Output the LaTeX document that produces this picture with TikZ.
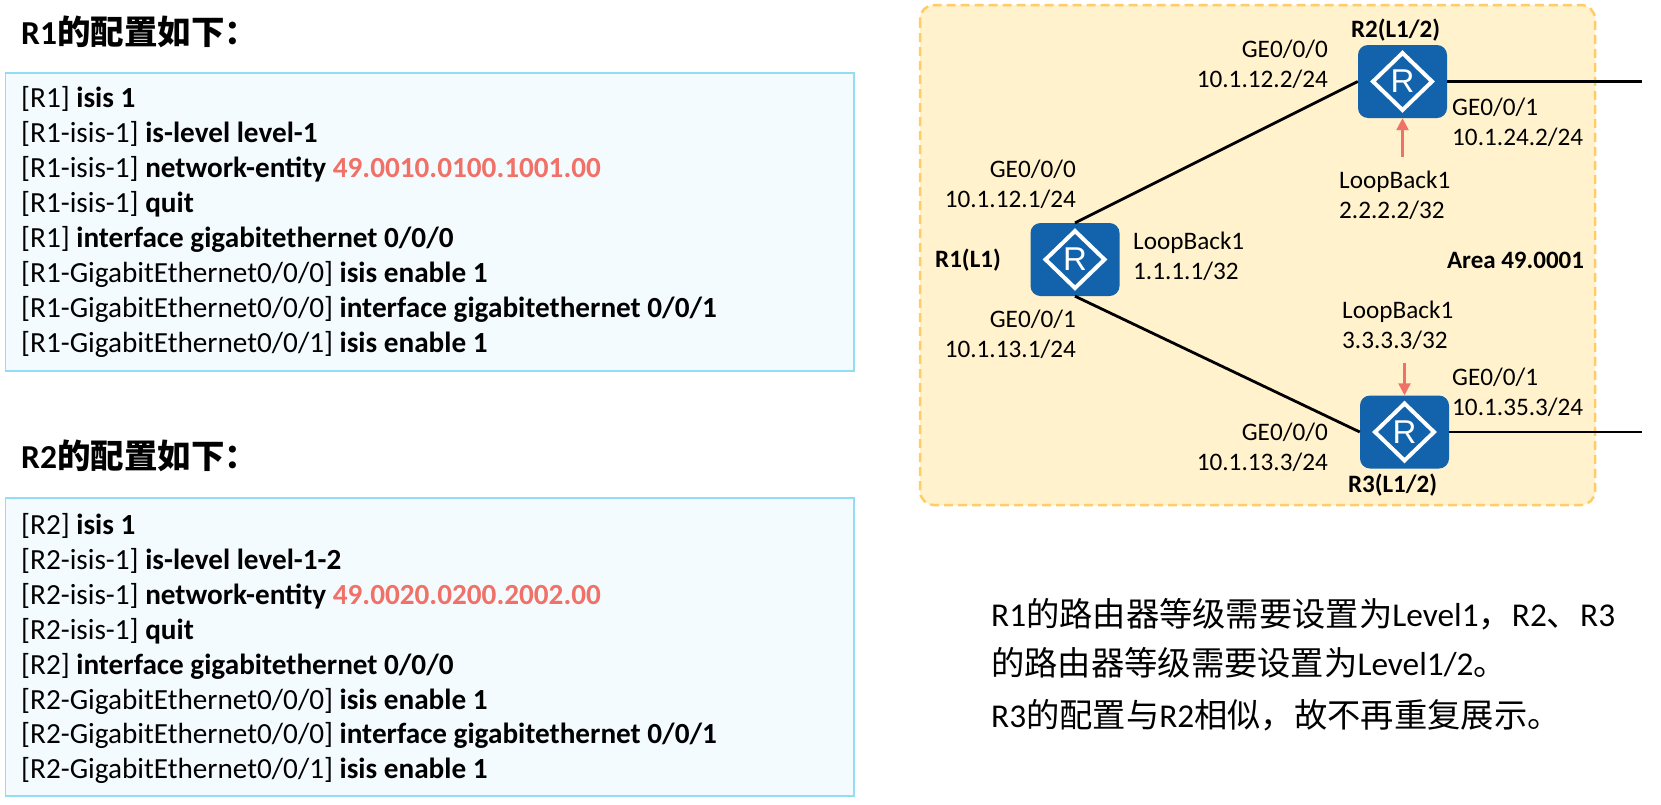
\documentclass[tikz,border=0pt]{standalone}
\usepackage{fontspec}
\setmainfont{Carlito}
\newfontfamily\cjk{Noto Sans CJK SC}
\newfontfamily\cjkb{Noto Sans CJK SC Bold}
\newfontfamily\rfont{Liberation Sans}
\usetikzlibrary{arrows.meta}
\definecolor{codefill}{HTML}{F4FBFF}
\definecolor{codeline}{HTML}{92DDF5}
\definecolor{areafill}{HTML}{FFF2CC}
\definecolor{arealine}{HTML}{FFCC66}
\definecolor{routerblue}{HTML}{1262AC}
\definecolor{hilite}{HTML}{F07167}
\newcommand{\sz}[1]{\fontsize{#1}{30}\selectfont}
\newcommand{\hl}[1]{\textcolor{hilite}{\textbf{#1}}}
\newcommand{\routerglyph}[1]{%
  \draw[white,line width=4pt,line join=miter] ([xshift=-29.5pt]#1.center) -- ([yshift=28.5pt]#1.center) -- ([xshift=29.5pt]#1.center) -- ([yshift=-28.5pt]#1.center) -- cycle;
  \node[white,font=\rfont\sz{33},inner sep=0pt] at (#1.center) {R};}
\tikzset{
  x=1pt,y=-1pt,
  codebox/.style={draw=codeline,fill=codefill,line width=1.8pt},
  codeline/.style={anchor=base west,inner sep=0pt,font=\sz{29.2}},
  titletext/.style={anchor=base west,inner sep=0pt,font=\sz{33.5}\bfseries},
  router/.style={fill=routerblue,rounded corners=10pt,minimum width=89pt,minimum height=73pt,inner sep=0pt},
  lab/.style={inner sep=0pt,font=\sz{25.2},align=left},
  labr/.style={inner sep=0pt,font=\sz{25.2},align=right},
  blab/.style={anchor=center,inner sep=0pt,font=\sz{25}\bfseries},
  link/.style={black,line width=2.8pt},
  loop/.style={draw=hilite,line width=2.4pt,-{Triangle[length=12pt,width=12pt]}},
  note/.style={anchor=base west,inner sep=0pt,font=\sz{33.3}}
}
\begin{document}
\begin{tikzpicture}
\useasboundingbox (0,0) rectangle (1661,804);
\fill[white] (0,0) rectangle (1661,804);
% left
\node[titletext] (t1) at (21,44) {R1{\cjkb 的配置如下：}};
\path[codebox] (5.5,73) rectangle (854,371);
\foreach \y/\t in {
 107/{[R1] \textbf{isis 1}},
 142/{[R1-isis-1] \textbf{is-level level-1}},
 177/{[R1-isis-1] \textbf{network-entity} \hl{49.0010.0100.1001.00}},
 212/{[R1-isis-1] \textbf{quit}},
 247/{[R1] \textbf{interface gigabitethernet 0/0/0}},
 282/{[R1-GigabitEthernet0/0/0] \textbf{isis enable 1}},
 317/{[R1-GigabitEthernet0/0/0] \textbf{interface gigabitethernet 0/0/1}},
 352/{[R1-GigabitEthernet0/0/1] \textbf{isis enable 1}}}
 {\node[codeline] at (21,\y) {\t};}
\node[titletext] (t2) at (21,468) {R2{\cjkb 的配置如下：}};
\path[codebox] (5.5,498) rectangle (854,796);
\foreach \y/\t in {
 534/{[R2] \textbf{isis 1}},
 569/{[R2-isis-1] \textbf{is-level level-1-2}},
 604/{[R2-isis-1] \textbf{network-entity} \hl{49.0020.0200.2002.00}},
 639/{[R2-isis-1] \textbf{quit}},
 674/{[R2] \textbf{interface gigabitethernet 0/0/0}},
 709/{[R2-GigabitEthernet0/0/0] \textbf{isis enable 1}},
 743/{[R2-GigabitEthernet0/0/0] \textbf{interface gigabitethernet 0/0/1}},
 778/{[R2-GigabitEthernet0/0/1] \textbf{isis enable 1}}}
 {\node[codeline] at (21,\y) {\t};}
% area
\path[fill=areafill,draw=arealine,line width=2.5pt,dash pattern=on 9pt off 5pt,rounded corners=14pt] (920,5) rectangle (1595,505);
\node[router] (R1) at (1075,259.5) {};
\node[router] (R2) at (1402.5,81.5) {};
\node[router] (R3) at (1404.5,432) {};
\routerglyph{R1}\routerglyph{R2}\routerglyph{R3}
\coordinate (e2) at (1642,81.5);
\coordinate (e3) at (1642,432);
\draw[link] (R1.north) -- (R2.west);
\draw[link] (R1.south) -- (R3.west);
\draw[link] (R2.east) -- (e2);
\draw[link] (R3.east) -- (e3);
\coordinate (l2) at (1402.5,157);
\coordinate (l3) at (1404.5,363);
\draw[loop] (l2) -- (R2.south);
\draw[loop] (l3) -- (R3.north);
\node[blab] (nR2) at (1395.5,30) {R2(L1/2)};
\node[blab] (nR1) at (968,260) {R1(L1)};
\node[blab] (nR3) at (1392.5,485) {R3(L1/2)};
\node[blab] (nA) at (1515.5,260) {Area 49.0001};
\node[labr,anchor=east] (a) at (1328,64) {GE0/0/0\\10.1.12.2/24};
\node[labr,anchor=east] (b) at (1076,184) {GE0/0/0\\10.1.12.1/24};
\node[labr,anchor=east] (c) at (1076,334) {GE0/0/1\\10.1.13.1/24};
\node[labr,anchor=east] (d) at (1328,447) {GE0/0/0\\10.1.13.3/24};
\node[lab,anchor=west] (e) at (1452,122) {GE0/0/1\\10.1.24.2/24};
\node[lab,anchor=west] (f) at (1452,392) {GE0/0/1\\10.1.35.3/24};
\node[lab,anchor=west] (g) at (1133,256) {LoopBack1\\1.1.1.1/32};
\node[lab,anchor=west] (h) at (1339,195) {LoopBack1\\2.2.2.2/32};
\node[lab,anchor=west] (i) at (1342,325) {LoopBack1\\3.3.3.3/32};
% note
\node[note] (n1) at (991,626.5) {R1{\cjk 的路由器等级需要设置为}Level1{\cjk ，}R2{\cjk 、}R3};
\node[note] (n2) at (991,675.5) {{\cjk 的路由器等级需要设置为}Level1/2{\cjk 。}};
\node[note] (n3) at (991,727) {R3{\cjk 的配置与}R2{\cjk 相似，故不再重复展示。}};
\end{tikzpicture}
\end{document}
